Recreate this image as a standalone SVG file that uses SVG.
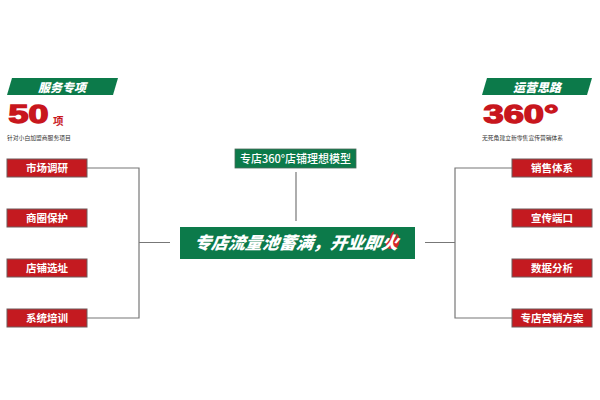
<svg xmlns="http://www.w3.org/2000/svg" width="600" height="400" viewBox="0 0 600 400">
<style>
.cjk{font-family:"Noto Sans CJK SC","Noto Sans",sans-serif}
.rb{fill:#c41a20;stroke:#6e5a5a;stroke-width:1}
.rt{fill:#fff;font-size:10.5px;font-weight:700;text-anchor:middle}
.ln{fill:none;stroke:#777;stroke-width:1.2}
.gr{fill:#0c7a4a}
.tab{fill:#fff;font-size:12px;font-weight:900;font-style:italic;text-anchor:middle}
.big{fill:#c8161d;stroke:#c8161d;stroke-width:1.4;font-family:"Liberation Sans",Arial,sans-serif;font-weight:700;font-size:25px}
.sub{fill:#333;font-size:5.8px}
</style>
<rect width="600" height="400" fill="#fff"/>
<g id="connectors">
<path class="ln" d="M87 168H139V318H87M139 242.5H170"/>
<path class="ln" d="M512 168H455V318H512M455 242.5H425"/>
<path class="ln" d="M296 172V221"/>
</g>
<g id="header-left">
<polygon class="gr" points="12,78 118,78 113,95 7,95"/>
<text class="cjk tab" x="62" y="91.5">服务专项</text>
<text class="big" x="8.5" y="123" textLength="40" lengthAdjust="spacingAndGlyphs">50</text>
<text class="cjk" x="53" y="125" fill="#c8161d" font-size="10.5" font-weight="700">项</text>
<text class="cjk sub" x="7" y="140">针对小白加盟商服务项目</text>
</g>
<g id="header-right">
<polygon class="gr" points="487,78 592,78 587,95 482,95"/>
<text class="cjk tab" x="537" y="91.5">运营思路</text>
<text class="big" x="483.5" y="123" textLength="75" lengthAdjust="spacingAndGlyphs">360°</text>
<text class="cjk sub" x="482" y="140">无死角建立新零售宣传营销体系</text>
</g>
<g id="top-model">
<rect class="gr" x="235" y="149" width="121" height="19" stroke="#4a6a5a" stroke-width="0.8"/>
<text class="cjk" x="295.5" y="162.5" fill="#fff" font-size="11" font-weight="500" text-anchor="middle">专店360°店铺理想模型</text>
</g>
<g id="main">
<rect class="gr" x="180" y="227" width="235" height="32"/>
<path d="M389 249c-4-3-4-8-2-11 1 2 2 3 3 3-1-4 1-8 4-10-1 3 0 5 2 7 1-2 1-3 0-5 4 3 4 8 3 11-1 3-3 5-6 5z" fill="#d3262a"/>
<text class="cjk" x="295.5" y="249" fill="#fff" font-size="17" font-weight="900" font-style="italic" text-anchor="middle" transform="skewX(-8) translate(35 0)">专店流量池蓄满，开业即火</text>
</g>
<g id="n1"><rect class="rb" x="7" y="159" width="80" height="18"/><text class="cjk rt" x="47" y="172">市场调研</text></g>
<g id="n2"><rect class="rb" x="7" y="209" width="80" height="18"/><text class="cjk rt" x="47" y="222">商圈保护</text></g>
<g id="n3"><rect class="rb" x="7" y="259" width="80" height="18"/><text class="cjk rt" x="47" y="272">店铺选址</text></g>
<g id="n4"><rect class="rb" x="7" y="309" width="80" height="18"/><text class="cjk rt" x="47" y="322">系统培训</text></g>
<g id="n5"><rect class="rb" x="512" y="159" width="80" height="18"/><text class="cjk rt" x="552" y="172">销售体系</text></g>
<g id="n6"><rect class="rb" x="512" y="209" width="80" height="18"/><text class="cjk rt" x="552" y="222">宣传端口</text></g>
<g id="n7"><rect class="rb" x="512" y="259" width="80" height="18"/><text class="cjk rt" x="552" y="272">数据分析</text></g>
<g id="n8"><rect class="rb" x="512" y="309" width="80" height="18"/><text class="cjk rt" x="552" y="322">专店营销方案</text></g>
</svg>
